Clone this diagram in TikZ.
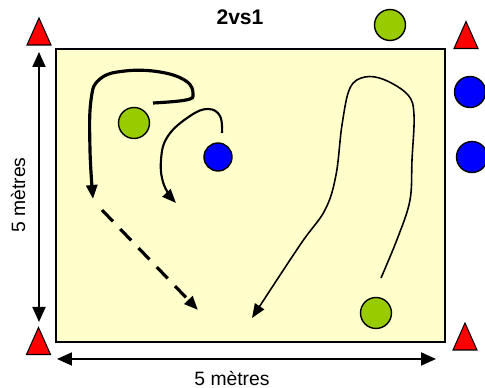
\documentclass[tikz,border=0pt]{standalone}
\usepackage{fontspec}
\setmainfont{Liberation Sans}
\usetikzlibrary{arrows.meta, positioning}
\definecolor{cfield}{HTML}{FFFFCC}
\definecolor{cgreen}{HTML}{99CC00}
\definecolor{cblue}{HTML}{0000FF}
\definecolor{ccone}{HTML}{FF0000}

\begin{document}
\begin{tikzpicture}[
    x=0.02cm, y=-0.02cm,
    player/.style={circle, draw=black, line width=0.8pt, inner sep=0pt, minimum size=0.62cm},
    cone/.pic={\draw[fill=ccone, line width=0.6pt, line join=miter] (-12,13.5) -- (0,-13.5) -- (12,13.5) -- cycle;},
    dim/.style={{Triangle[length=3mm, width=2.6mm]}-{Triangle[length=3mm, width=2.6mm]}, line width=1.1pt},
    run/.style={-{Triangle[length=2.8mm, width=2.2mm]}}
]
\useasboundingbox (0,0) rectangle (485,388);

% Field
\draw[fill=cfield, line width=1pt] (56,49) rectangle (445,342);
\node[font=\fontsize{12}{14}\selectfont\bfseries] (title) at (240,17) {2vs1};

% Cones
\pic at (39,31.5) {cone};
\pic at (466,35) {cone};
\pic at (38.5,341) {cone};
\pic at (465,336.5) {cone};

% Players
\node[player, fill=cgreen] (att1) at (134,123) {};
\node[player, fill=cgreen] (att2) at (390,25) {};
\node[player, fill=cgreen] (att3) at (376,313) {};
\node[player, fill=cblue, minimum size=0.56cm] (def1) at (218,157) {};
\node[player, fill=cblue] (def2) at (470,92) {};
\node[player, fill=cblue] (def3) at (472,157) {};

% Dimensions
\coordinate (vtop) at (39,52);
\coordinate (vbot) at (39,322);
\coordinate (hleft) at (57,359);
\coordinate (hright) at (436,359);
\draw[dim] (vbot) -- (vtop);
\draw[dim] (hleft) -- (hright);
\node[rotate=90, font=\fontsize{11}{13}\selectfont] (vlabel) at (18,195) {5 mètres};
\node[font=\fontsize{11}{13}\selectfont] (hlabel) at (232,378) {5 mètres};

% Runs
\draw[run, line width=1.8pt] plot[smooth, tension=0.7] coordinates {
    (153,103) (186,100) (193,94) (186,81) (160,72) (125,71) (100,79) (91,100) (90,150) (93,199)};
\draw[run, line width=1.8pt, dashed, dash pattern=on 9pt off 6pt] (102,210) -- (198,310);
\draw[run, line width=1.2pt] plot[smooth, tension=0.7] coordinates {
    (222,133) (220,116) (208,109) (190,116) (168,136) (161,160) (164,185) (176,203)};
\draw[run, line width=0.9pt] plot[smooth, tension=0.6] coordinates {
    (381,278) (398,237) (410,200) (412,160) (414,115) (408,95) (385,80) (365,77) (350,88) (342,125) (336,175) (325,210) (300,245) (252,318)};

\end{tikzpicture}
\end{document}
